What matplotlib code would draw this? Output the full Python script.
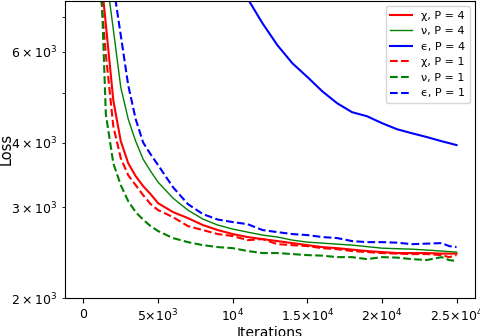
import matplotlib
matplotlib.use("Agg")
import matplotlib.pyplot as plt

# -----------------------------
# Data
# -----------------------------
iterations = [0, 1000, 1500, 2000, 2500, 3000, 3500, 4000, 4500, 5000,
              6000, 7000, 8000, 9000, 10000, 11000, 12000, 13000, 14000,
              15000, 16000, 17000, 18000, 19000, 20000, 21000, 22000,
              23000, 24000, 24500, 25000]

chi_p4 = [40000, 9460, 6777, 4830, 4026, 3648, 3444, 3294, 3178, 3053,
          2934, 2856, 2769, 2708, 2660, 2625, 2601, 2578, 2555,
          2532, 2510, 2498, 2482, 2466, 2455, 2444, 2444,
          2444, 2438, 2438, 2438]
nu_p4 = [40000, 11020, 8542, 6627, 5118, 4440, 4024, 3713, 3520, 3353,
         3122, 2960, 2844, 2769, 2720, 2683, 2648, 2625, 2589,
         2566, 2555, 2543, 2532, 2515, 2498, 2492, 2487,
         2477, 2466, 2460, 2455]
eps_p4 = [60000, 40000, 33000, 28000, 24000, 21000, 19000, 17000, 15600, 14500,
          12800, 11400, 10300, 9400, 8600, 7600, 6806, 6172, 5696,
          5360, 5028, 4766, 4580, 4498, 4362, 4246, 4170,
          4100, 4024, 3990, 3955]
chi_p1 = [40000, 8890, 5930, 4302, 3731, 3458, 3308, 3164, 3040, 2960,
          2869, 2756, 2708, 2660, 2637, 2589, 2601, 2543, 2532,
          2521, 2498, 2487, 2466, 2455, 2444, 2438, 2433,
          2433, 2422, 2400, 2422]
nu_p1 = [40000, 11776, 4539, 3648, 3308, 3080, 2934, 2836, 2756, 2696,
         2613, 2566, 2532, 2510, 2498, 2466, 2444, 2444, 2433,
         2422, 2416, 2400, 2400, 2379, 2400, 2395, 2379,
         2369, 2400, 2369, 2358]
eps_p1 = [40000, 12580, 10020, 8062, 6454, 5164, 4440, 4000, 3796, 3618,
          3278, 3040, 2908, 2838, 2806, 2780, 2708, 2683, 2660,
          2648, 2625, 2613, 2578, 2566, 2566, 2560, 2543,
          2549, 2555, 2521, 2510]

xtick_vals = [0, 5000, 10000, 15000, 20000, 25000]
xtick_labels = ["0", r"$5{\times}10^{3}$", r"$10^{4}$", r"$1.5{\times}10^{4}$",
                r"$2{\times}10^{4}$", r"$2.5{\times}10^{4}$"]

# -----------------------------
# Plot
# -----------------------------
fig = plt.figure(figsize=(4.8, 3.36), dpi=100)
ax = fig.add_axes([0.135, 0.113, 0.855, 0.885])

ax.plot(iterations, chi_p4, color="r", lw=1.5, label="χ, P = 4")
ax.plot(iterations, nu_p4, color="g", lw=1.0, label="ν, P = 4")
ax.plot(iterations, eps_p4, color="b", lw=1.5, label="ϵ, P = 4")
ax.plot(iterations, chi_p1, color="r", lw=1.5, ls="--", label="χ, P = 1")
ax.plot(iterations, nu_p1, color="g", lw=1.5, ls="--", label="ν, P = 1")
ax.plot(iterations, eps_p1, color="b", lw=1.5, ls="--", label="ϵ, P = 1")

ax.set_yscale("log")
ax.set_ylim(2000, 7530)
ax.set_xlim(-1250, 26250)
ax.set_xticks(xtick_vals)
ax.set_xticklabels(xtick_labels)
ax.tick_params(axis="both", which="both", labelsize=9)

ax.set_xlabel("Iterations", fontsize=10, labelpad=1)
ax.set_ylabel("Loss", fontsize=10.5, labelpad=-1.5)
ax.legend(loc="upper right", fontsize=8)

fig.savefig("out.png", dpi=100)
